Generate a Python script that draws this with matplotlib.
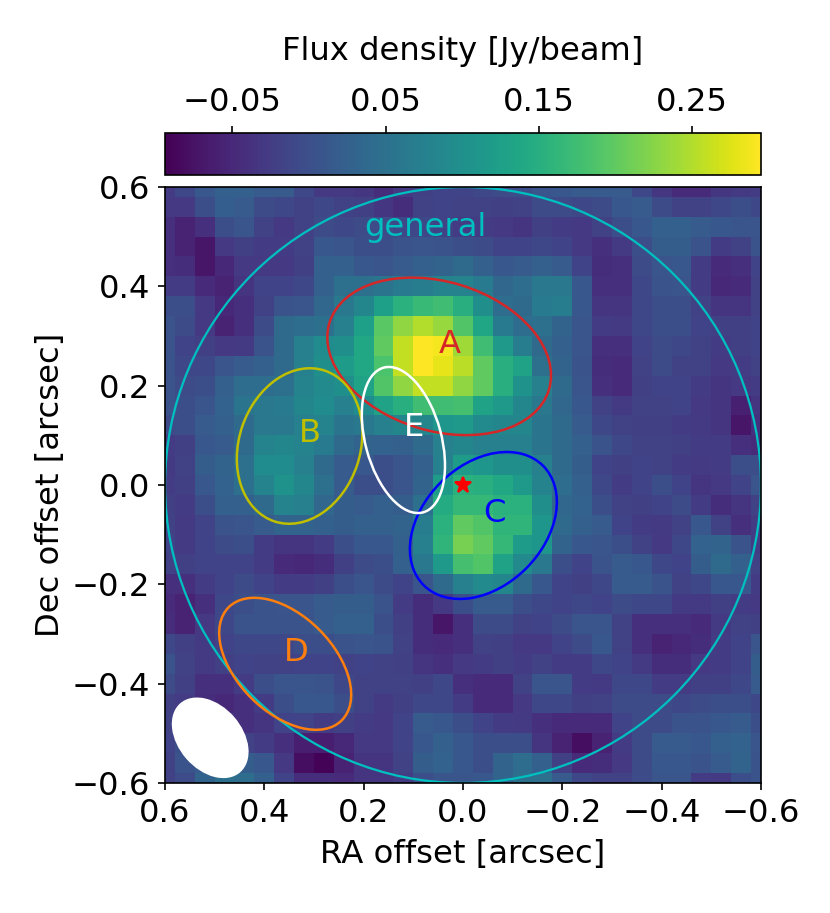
import numpy as np
import matplotlib
matplotlib.use("Agg")
import matplotlib.pyplot as plt
from matplotlib.patches import Circle, Ellipse

# flux density map, rows top to bottom (Dec +0.6 .. -0.6), columns left to right (RA +0.6 .. -0.6)
flux = [
    [-0.025, -0.01, 0.012, 0.025, 0.025, 0.018, 0.018, -0.01, -0.03, -0.03, -0.032, -0.043, -0.03, -0.02, -0.015, -0.015, -0.01, -0.005, 0.0, 0.008, 0.012, 0.018, 0.018, 0.018, -0.01, -0.032, -0.047, -0.047, -0.032, -0.028, -0.025],
    [-0.03, -0.03, 0.0, 0.022, 0.018, -0.005, -0.01, -0.018, -0.01, -0.018, -0.02, -0.032, -0.043, -0.018, -0.015, -0.018, -0.018, -0.02, -0.018, -0.005, -0.005, -0.01, -0.005, 0.012, 0.018, -0.005, -0.018, -0.018, -0.01, 0.0, -0.01],
    [-0.04, -0.055, -0.04, 0.0, 0.008, -0.018, -0.03, -0.018, -0.005, -0.01, -0.005, -0.005, -0.01, -0.01, -0.018, -0.025, -0.025, -0.03, -0.035, -0.02, -0.025, -0.03, -0.018, 0.0, 0.012, 0.025, 0.025, 0.018, 0.012, 0.008, 0.008],
    [-0.04, -0.055, -0.07, -0.03, -0.02, -0.025, -0.025, -0.018, 0.012, 0.008, 0.0, 0.0, 0.005, 0.008, 0.005, 0.0, -0.005, -0.015, -0.015, -0.01, -0.015, -0.03, -0.04, -0.028, 0.0, 0.02, 0.02, 0.005, -0.025, -0.018, 0.005],
    [-0.04, -0.043, -0.07, -0.05, -0.03, -0.03, -0.03, -0.02, 0.025, 0.025, 0.012, 0.008, 0.018, 0.025, 0.03, 0.04, 0.025, 0.012, 0.018, 0.025, 0.018, -0.015, -0.043, -0.04, -0.005, 0.008, 0.012, -0.025, -0.047, -0.04, -0.015],
    [-0.025, -0.025, -0.047, -0.055, -0.035, -0.015, -0.015, -0.01, 0.025, 0.05, 0.05, 0.055, 0.065, 0.07, 0.08, 0.08, 0.065, 0.035, 0.045, 0.062, 0.062, 0.012, -0.04, -0.04, -0.01, 0.005, 0.008, -0.025, -0.05, -0.047, -0.018],
    [0.0, 0.0, -0.03, -0.05, -0.04, -0.018, 0.005, 0.008, 0.035, 0.062, 0.085, 0.125, 0.155, 0.17, 0.175, 0.15, 0.1, 0.045, 0.04, 0.065, 0.07, 0.012, -0.035, -0.035, -0.01, 0.0, 0.0, -0.018, -0.035, -0.035, -0.018],
    [0.005, -0.005, -0.03, -0.055, -0.04, -0.005, 0.04, 0.045, 0.05, 0.075, 0.125, 0.195, 0.23, 0.25, 0.235, 0.19, 0.135, 0.065, 0.045, 0.05, 0.03, 0.008, -0.025, -0.028, -0.01, 0.0, 0.0, -0.015, -0.02, -0.02, -0.015],
    [0.005, -0.015, -0.02, -0.03, -0.028, 0.005, 0.04, 0.075, 0.095, 0.1, 0.14, 0.2, 0.26, 0.295, 0.29, 0.24, 0.175, 0.115, 0.07, 0.04, 0.025, 0.008, -0.04, -0.04, -0.015, -0.005, -0.01, -0.018, -0.025, -0.02, -0.015],
    [0.005, -0.01, -0.01, 0.008, 0.018, 0.025, 0.04, 0.075, 0.1, 0.12, 0.14, 0.185, 0.26, 0.295, 0.28, 0.255, 0.2, 0.15, 0.13, 0.05, 0.03, 0.005, -0.043, -0.047, -0.018, -0.005, -0.018, -0.018, -0.03, -0.025, -0.018],
    [0.005, -0.005, 0.0, 0.025, 0.045, 0.045, 0.05, 0.08, 0.09, 0.1, 0.13, 0.19, 0.23, 0.26, 0.26, 0.23, 0.2, 0.15, 0.105, 0.075, 0.04, 0.008, -0.04, -0.047, -0.02, -0.015, -0.015, -0.025, -0.035, -0.03, -0.025],
    [0.005, 0.0, 0.008, 0.028, 0.055, 0.062, 0.065, 0.085, 0.095, 0.075, 0.095, 0.13, 0.15, 0.175, 0.175, 0.18, 0.13, 0.115, 0.085, 0.062, 0.035, 0.012, -0.018, -0.028, -0.018, -0.018, -0.015, -0.03, -0.035, -0.06, -0.035],
    [-0.005, 0.0, 0.018, 0.025, 0.04, 0.062, 0.062, 0.075, 0.08, 0.055, 0.062, 0.075, 0.085, 0.085, 0.11, 0.115, 0.09, 0.085, 0.085, 0.055, 0.04, 0.018, -0.01, -0.018, -0.02, -0.02, -0.025, -0.028, -0.035, -0.07, -0.04],
    [-0.025, -0.02, 0.012, 0.018, 0.04, 0.08, 0.085, 0.08, 0.065, 0.04, 0.03, 0.028, 0.025, 0.04, 0.075, 0.085, 0.075, 0.075, 0.075, 0.055, 0.04, 0.025, 0.005, -0.01, -0.018, -0.018, -0.02, -0.025, -0.025, -0.04, -0.047],
    [-0.028, -0.018, 0.02, 0.03, 0.05, 0.095, 0.095, 0.075, 0.04, 0.018, 0.012, 0.0, 0.008, 0.025, 0.075, 0.12, 0.11, 0.1, 0.1, 0.075, 0.04, 0.02, -0.015, -0.02, -0.015, -0.018, -0.025, -0.028, -0.025, 0.0, 0.0],
    [-0.025, -0.02, 0.012, 0.028, 0.05, 0.08, 0.105, 0.085, 0.05, 0.018, 0.0, 0.0, 0.008, 0.03, 0.12, 0.155, 0.15, 0.14, 0.115, 0.08, 0.045, 0.025, -0.01, -0.025, -0.015, 0.0, -0.015, -0.035, -0.03, -0.015, 0.008],
    [-0.02, -0.025, 0.0, 0.025, 0.025, 0.04, 0.08, 0.075, 0.035, 0.02, 0.018, 0.025, 0.02, 0.05, 0.145, 0.165, 0.165, 0.155, 0.155, 0.1, 0.035, 0.028, 0.0, -0.018, -0.02, -0.015, -0.005, -0.025, -0.043, -0.035, -0.018],
    [-0.018, -0.028, -0.015, 0.005, 0.008, 0.018, 0.03, 0.03, 0.025, 0.02, 0.025, 0.025, 0.03, 0.07, 0.155, 0.2, 0.19, 0.16, 0.16, 0.11, 0.04, 0.025, 0.018, -0.015, -0.025, -0.028, -0.018, 0.012, -0.018, -0.04, -0.025],
    [-0.015, -0.028, -0.015, -0.005, 0.0, -0.025, -0.035, -0.035, -0.025, 0.0, 0.012, 0.012, 0.025, 0.075, 0.16, 0.215, 0.2, 0.165, 0.12, 0.11, 0.03, 0.012, 0.008, 0.0, -0.018, -0.03, -0.01, 0.028, 0.03, 0.005, -0.025],
    [-0.018, -0.02, -0.015, -0.015, -0.015, -0.025, -0.047, -0.05, -0.043, -0.02, -0.005, 0.0, 0.025, 0.062, 0.115, 0.18, 0.19, 0.13, 0.09, 0.062, 0.0, -0.015, 0.005, 0.018, 0.012, -0.01, -0.015, 0.02, 0.04, 0.025, -0.018],
    [-0.04, -0.04, -0.025, -0.015, -0.005, -0.015, -0.025, -0.025, -0.02, 0.0, 0.008, -0.005, -0.015, 0.008, 0.04, 0.075, 0.09, 0.085, 0.04, 0.012, -0.015, -0.02, -0.01, 0.018, 0.018, 0.005, -0.018, -0.01, 0.012, 0.012, -0.025],
    [-0.047, -0.055, -0.04, -0.01, 0.0, 0.005, 0.008, 0.008, 0.018, 0.02, 0.02, 0.005, -0.025, -0.043, -0.03, 0.0, 0.018, 0.018, 0.0, -0.01, -0.015, -0.01, -0.015, -0.005, -0.01, -0.01, -0.028, -0.028, -0.02, -0.025, -0.03],
    [-0.043, -0.055, -0.03, -0.01, 0.005, 0.005, 0.005, 0.005, 0.018, 0.025, 0.025, 0.0, -0.02, -0.043, -0.07, -0.04, -0.005, -0.005, -0.018, -0.015, -0.005, 0.008, 0.008, -0.018, -0.04, -0.04, -0.04, -0.047, -0.028, -0.018, -0.02],
    [-0.01, -0.02, -0.028, -0.015, -0.01, -0.01, -0.01, 0.0, 0.0, 0.005, 0.008, 0.005, -0.018, -0.043, -0.047, -0.04, -0.018, -0.02, -0.03, -0.03, -0.015, -0.005, 0.012, -0.018, -0.04, -0.055, -0.05, -0.043, -0.025, -0.015, 0.008],
    [0.005, -0.018, -0.028, -0.02, -0.015, -0.018, -0.018, -0.015, -0.015, -0.018, -0.015, -0.018, -0.02, -0.035, -0.04, -0.03, -0.025, -0.02, -0.025, -0.018, -0.025, -0.025, -0.01, -0.015, -0.028, -0.043, -0.043, -0.03, -0.025, -0.015, 0.02],
    [-0.005, -0.02, -0.04, -0.04, -0.025, 0.0, 0.008, 0.008, 0.005, -0.01, -0.018, -0.018, -0.018, -0.02, -0.01, -0.04, -0.047, -0.047, -0.018, 0.008, 0.008, -0.025, -0.028, -0.01, -0.01, -0.025, -0.025, -0.02, -0.02, -0.01, 0.018],
    [-0.02, -0.025, -0.043, -0.05, -0.04, -0.025, 0.0, 0.012, 0.012, 0.0, -0.018, -0.028, -0.02, -0.01, -0.01, -0.025, -0.047, -0.047, -0.03, -0.01, -0.01, -0.02, -0.018, -0.005, -0.005, -0.005, -0.01, -0.005, 0.0, 0.0, -0.01],
    [-0.018, -0.01, -0.025, -0.03, -0.04, -0.035, -0.015, -0.015, -0.025, -0.02, -0.025, -0.03, -0.015, 0.018, 0.012, 0.0, -0.015, -0.025, -0.028, -0.04, -0.047, -0.047, -0.047, -0.015, -0.005, -0.005, 0.005, 0.005, 0.012, 0.018, 0.0],
    [-0.015, 0.0, 0.0, 0.0, -0.018, -0.025, -0.04, -0.062, -0.062, -0.05, -0.03, -0.03, -0.015, 0.012, 0.025, 0.012, 0.0, 0.0, 0.0, -0.035, -0.055, -0.08, -0.055, -0.025, -0.005, 0.018, 0.018, 0.012, 0.025, 0.028, 0.008],
    [-0.018, 0.005, 0.018, 0.028, 0.02, 0.012, -0.03, -0.08, -0.09, -0.055, -0.035, -0.035, -0.018, 0.02, 0.028, 0.012, 0.0, 0.03, 0.045, 0.025, -0.02, -0.047, -0.043, -0.03, -0.005, 0.012, 0.012, 0.005, 0.018, 0.03, 0.005],
    [-0.018, -0.005, 0.03, 0.05, 0.045, 0.025, -0.015, -0.043, -0.043, -0.047, -0.035, -0.035, -0.025, 0.0, 0.008, 0.008, 0.012, 0.03, 0.05, 0.05, 0.018, -0.01, -0.018, -0.018, -0.005, 0.008, 0.008, -0.025, -0.028, 0.0, 0.005],
]

vmin = -0.094
vmax = 0.295
ticks = [-0.2 * i + 0.6 for i in range(7)]
cbar_ticks = [-0.05, 0.05, 0.15, 0.25]

# regions: name, colour, centre, full width, full height, angle, label position
names = ["A", "B", "C", "D", "E"]
colors = ["tab:red", "y", "b", "tab:orange", "w"]
centers = [(0.048, 0.259), (0.329, 0.0785), (-0.041, -0.0815), (0.358, -0.36), (0.12, 0.0906)]
widths = [0.462, 0.32, 0.34, 0.322, 0.302]
heights = [0.30, 0.244, 0.244, 0.194, 0.153]
angles = [17, -71.4, -45, 45, 74.8]
label_pos = [(0.026, 0.282), (0.308, 0.103), (-0.064, -0.058), (0.336, -0.338), (0.099, 0.115)]

fs = 15.5
W, H = 830, 913
fig = plt.figure(figsize=(W / 150, H / 150), dpi=150)
ax = fig.add_axes([165 / W, (H - 783) / H, 596 / W, 596 / H])
cax = fig.add_axes([165 / W, (H - 175) / H, 596 / W, 42 / H])

im = ax.imshow(flux, origin="upper", extent=[0.62, -0.62, -0.62, 0.62],
               cmap="viridis", vmin=vmin, vmax=vmax, interpolation="nearest")
ax.set_xlim(0.6, -0.6)
ax.set_ylim(-0.6, 0.6)
ax.set_xticks(ticks)
ax.set_yticks(ticks)
ax.tick_params(labelsize=fs)
ax.set_xlabel("RA offset [arcsec]", fontsize=fs, labelpad=5)
ax.set_ylabel("Dec offset [arcsec]", fontsize=fs, labelpad=3)

ax.add_patch(Circle((0, 0), 0.6, fc="none", ec="c", lw=1.1))
ax.text(0.0765, 0.519, "general", color="c", fontsize=fs, ha="center", va="center")

for i in range(len(names)):
    ax.add_patch(Ellipse(centers[i], widths[i], heights[i], angle=angles[i],
                         fc="none", ec=colors[i], lw=1.2))
    ax.text(label_pos[i][0], label_pos[i][1], names[i], color=colors[i],
            fontsize=fs, ha="center", va="center")

# beam
ax.add_patch(Ellipse((0.509, -0.509), 0.184, 0.128, angle=49, fc="w", ec="none"))
ax.plot(0, 0, "*", color="r", ms=8, mec="r")

cb = fig.colorbar(im, cax=cax, orientation="horizontal", ticks=cbar_ticks)
cb.ax.xaxis.set_ticks_position("top")
cb.ax.xaxis.set_label_position("top")
cb.ax.tick_params(labelsize=fs)
cb.set_label("Flux density [Jy/beam]", fontsize=fs, labelpad=13)

fig.savefig("out.png", dpi=150)
